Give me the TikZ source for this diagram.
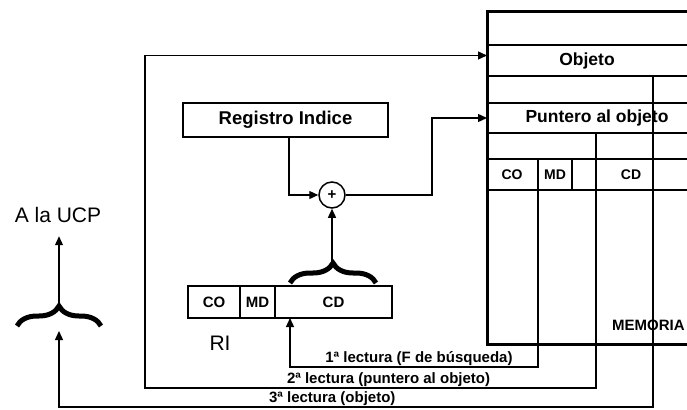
\documentclass[tikz,border=0pt]{standalone}
\usepackage{fontspec}
\setmainfont{Liberation Sans}
\usetikzlibrary{arrows.meta, positioning, decorations.pathreplacing, calc}
\tikzset{
  memframe/.style={line width=3pt},
  memline/.style={line width=2.2pt},
  memrow/.style={inner sep=0pt, outer sep=0pt, font=\fontsize{17.5}{18}\selectfont\bfseries},
  memcell/.style={inner sep=0pt, font=\fontsize{14}{15}\selectfont\bfseries},
  regbox/.style={draw, line width=2pt, minimum height=32pt, inner sep=0pt, outer sep=0pt, font=\fontsize{15}{16}\selectfont\bfseries},
  sumnode/.style={circle, draw, line width=1.5pt, minimum size=26pt, inner sep=0pt, font=\fontsize{15}{15}\selectfont\bfseries},
  arr/.style={-{Triangle[length=9pt, width=8pt]}, line width=1.3pt},
  readlbl/.style={font=\fontsize{15}{16}\selectfont\bfseries, inner sep=1.2pt, above},
  bigtxt/.style={font=\fontsize{21}{23}\selectfont},
  bigbrace/.style={decorate, decoration={brace, amplitude=20pt}, line width=5pt}
}
\begin{document}
\begin{tikzpicture}[x=1pt, y=-1pt]
\useasboundingbox (0,0) rectangle (687,409);

% ===== MEMORIA =====
\draw[memframe] (487,12) rectangle (700,344);
\foreach \y in {45,76,103,133,159,190}
  \draw[memline] (487,\y) -- (700,\y);
\draw[memline] (538,159) -- (538,190);
\draw[memline] (572,159) -- (572,190);
\node[memrow, minimum width=200pt, minimum height=31pt] (objrow) at (587,60.5) {Objeto};
\node[memrow, minimum width=220pt, minimum height=30pt] (ptrrow) at (597,118) {Puntero al objeto};
\node[memcell] (mco) at (512,174.5) {CO};
\node[memcell] (mmd) at (555,174.5) {MD};
\node[memcell] (mcd) at (631,174.5) {CD};
\node[memcell, font=\fontsize{15}{16}\selectfont\bfseries, anchor=west] (memlbl) at (612,325) {MEMORIA};

\coordinate (tapins) at (538,159);
\coordinate (tapptr) at (596,133);
\coordinate (tapobj) at (653,76);

% ===== REGISTRO INDICE + SUMADOR =====
\node[regbox, minimum width=205pt, minimum height=34pt, font=\fontsize{18.5}{19}\selectfont\bfseries] (regidx) at (285.5,120) {Registro Indice};
\node[sumnode] (sumop) at (332,195) {+};
\coordinate (jog) at (432,118);

\draw[arr] ([xshift=3.5pt]regidx.south) |- (sumop.west);
\draw[arr] (sumop.east) -| (jog) -- (ptrrow.west);

% ===== RI =====
\node[regbox, minimum width=52pt] (rico) at (214,302) {CO};
\node[regbox, minimum width=35pt, right=0pt of rico] (rimd) {MD};
\node[regbox, minimum width=117pt, right=0pt of rimd] (ricd) {CD};
\node[bigtxt] (rilbl) at (220,343) {RI};

\draw[bigbrace] (290,283) -- (376,283);
\coordinate (ritip) at (332,261);
\draw[arr] (ritip) -- (sumop.south);

% ===== LECTURAS =====
\coordinate (rd1) at (290,367);
\coordinate (rd2) at (145,388);
\coordinate (rd3) at (59,407);
\coordinate (ucpin) at (59,331);

\draw[arr] (tapins) |- (rd1) node[readlbl, pos=0.74] {1ª lectura (F de búsqueda)} -- (rd1 |- ricd.south);
\draw[arr] (tapptr) |- (rd2) node[readlbl, pos=0.73] {2ª lectura (puntero al objeto)} |- ([yshift=5pt]objrow.west);
\draw[arr] (tapobj) |- (rd3) node[readlbl, pos=0.77] {3ª lectura (objeto)} -- (ucpin);

% ===== A LA UCP =====
\draw[bigbrace] (17,326) -- (101,326);
\coordinate (ucptip) at (59,304);
\node[bigtxt] (ucp) at (58,215) {A la UCP};
\draw[arr] (ucptip) -- ([yshift=-10pt]ucptip |- ucp.south);

\end{tikzpicture}
\end{document}
